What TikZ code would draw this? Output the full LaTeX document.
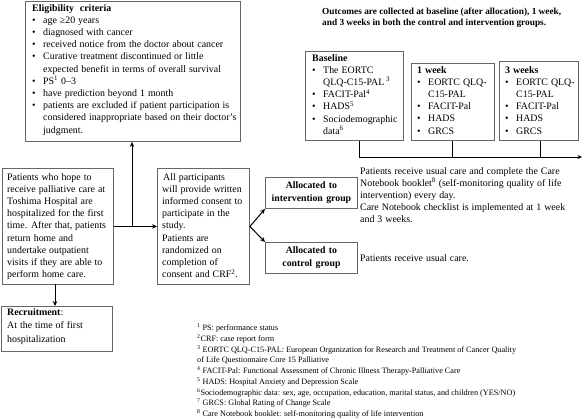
\documentclass[tikz,border=0pt]{standalone}
\usepackage{fontspec}
\setmainfont{Liberation Serif}
\usetikzlibrary{arrows.meta,calc}
\newcommand{\bu}{\makebox[11pt][l]{\textbullet}}
\newcommand{\ind}{\hspace*{11pt}}
\newcommand{\widesp}[1]{\spaceskip=#1em plus 0.1em\relax}
\begin{document}
\begin{tikzpicture}[x=1pt,y=-1pt,
 box/.style={draw=black!60, line width=0.9pt, inner sep=0pt, anchor=north west},
 txt/.style={inner sep=0pt, anchor=north west, align=left, font=\fontsize{9.9}{12.2}\selectfont\widesp{0.3}},
 alloc/.style={box, minimum width=92, minimum height=31, align=center, font=\bfseries\fontsize{9.8}{13}\selectfont\widesp{0.35}},
 foot/.style={inner sep=0pt, anchor=north west, align=left, font=\fontsize{8.2}{10.7}\selectfont},
 arr/.style={line width=1pt, -{Stealth[length=5pt,width=4.5pt]}},
 ln/.style={line width=1pt}]
\useasboundingbox (0,0) rectangle (584,418);
\fill[white] (0,0) rectangle (584,418);

% boxes
\node[box, minimum width=215, minimum height=140] (elig) at (25,1) {};
\node[box, minimum width=111, minimum height=116] (pat) at (2,168) {};
\node[box, minimum width=92, minimum height=116] (cons) at (157,168) {};
\node[box, minimum width=111, minimum height=45] (rec) at (1,306) {};
\node[box, minimum width=98, minimum height=89] (base) at (305,51) {};
\node[box, minimum width=83, minimum height=77] (wk1) at (411,63) {};
\node[box, minimum width=79, minimum height=79] (wk3) at (499,61) {};
\node[alloc] (int) at (265,177) {Allocated to\\intervention group};
\node[alloc] (ctrl) at (265,242) {Allocated to\\control group};

% texts
\node[txt] (eligt) at (32,4) {\textbf{Eligibility\ \ criteria}\\
\bu age ≥20 years\\
\bu diagnosed with cancer\\
\bu received notice from the doctor about cancer\\
\bu Curative treatment discontinued or little\\
\ind expected benefit in terms of overall survival\\
\bu PS\textsuperscript{1} 0–3\\
\bu have prediction beyond 1 month\\
\bu patients are excluded if patient participation is\\
\ind considered inappropriate based on their doctor's\\
\ind judgment.};

\node[txt, font=\bfseries\fontsize{9.3}{11.2}\selectfont] (title) at (322,8) {Outcomes are collected at baseline (after allocation), 1 week,\\
and 3 weeks in both the control and intervention groups.};

\node[txt] (baset) at (312,54) {\textbf{Baseline}\\
\bu The EORTC\\
\ind QLQ-C15-PAL\,\textsuperscript{3}\\
\bu FACIT-Pal\textsuperscript{4}\\
\bu HADS\textsuperscript{5}\\
\bu Sociodemographic\\
\ind data\textsuperscript{6}};

\node[txt] (wk1t) at (417,66) {\textbf{1 week}\\
\bu EORTC QLQ-\\
\ind C15-PAL\\
\bu FACIT-Pal\\
\bu HADS\\
\bu GRCS};

\node[txt] (wk3t) at (505,66) {\textbf{3 weeks}\\
\bu EORTC QLQ-\\
\ind C15-PAL\\
\bu FACIT-Pal\\
\bu HADS\\
\bu GRCS};

\node[txt] (patt) at (7,173) {Patients who hope to\\
receive palliative care at\\
Toshima Hospital are\\
hospitalized for the first\\
time. After that, patients\\
return home and\\
undertake outpatient\\
visits if they are able to\\
perform home care.};

\node[txt] (const) at (162,173) {\hspace*{1pt}All participants\\
will provide written\\
informed consent to\\
participate in the\\
study.\\
Patients are\\
randomized on\\
completion of\\
consent and CRF\textsuperscript{2}.};

\node[txt, font=\fontsize{9.9}{13.5}\selectfont\widesp{0.3}] (rect) at (7,308) {\textbf{Recruitment}:\\
At the time of first\\
hospitalization};

\node[txt] (intt) at (360,167) {Patients receive usual care and complete the Care\\
Notebook booklet\textsuperscript{8} (self-monitoring quality of life\\
intervention) every day.\\
Care Notebook checklist is implemented at 1 week\\
and 3 weeks.};

\node[txt, anchor=west] (ctrlt) at (360,258) {Patients receive usual care.};

\node[foot] (notes) at (197,324) {\textsuperscript{1} PS: performance status\\
\textsuperscript{2}CRF: case report form\\
\textsuperscript{3} EORTC QLQ-C15-PAL: European Organization for Research and Treatment of Cancer Quality\\
of Life Questionnaire Core 15 Palliative\\
\textsuperscript{4} FACIT-Pal: Functional Assessment of Chronic Illness Therapy-Palliative Care\\
\textsuperscript{5} HADS: Hospital Anxiety and Depression Scale\\
\textsuperscript{6}Sociodemographic data: sex, age, occupation, education, marital status, and children (YES/NO)\\
\textsuperscript{7} GRCS: Global Rating of Change Scale\\
\textsuperscript{8} Care Notebook booklet: self-monitoring quality of life intervention};

% connectors
\coordinate (j) at (132,226);
\draw[arr] (pat) -- (cons);
\draw[arr] (j) -- (j |- elig.south);
\coordinate (jr) at (55,284);
\draw[arr] (jr) -- (jr |- rec.north);
\draw[arr] (cons.east) -- (int.south west);
\draw[arr] (cons.east) -- (ctrl.north west);

\coordinate (t0) at (359,157);
\coordinate (t1) at (452,157);
\coordinate (t2) at (540,157);
\coordinate (tend) at (582,157);
\draw[ln] (t0 |- base.south) -- (t0);
\draw[ln] (t1 |- wk1.south) -- (t1);
\draw[ln] (t2 |- wk3.south) -- (t2);
\draw[line width=1pt, -{Stealth[length=4.5pt,width=4pt]}] (t0) -- (tend);
\end{tikzpicture}
\end{document}
